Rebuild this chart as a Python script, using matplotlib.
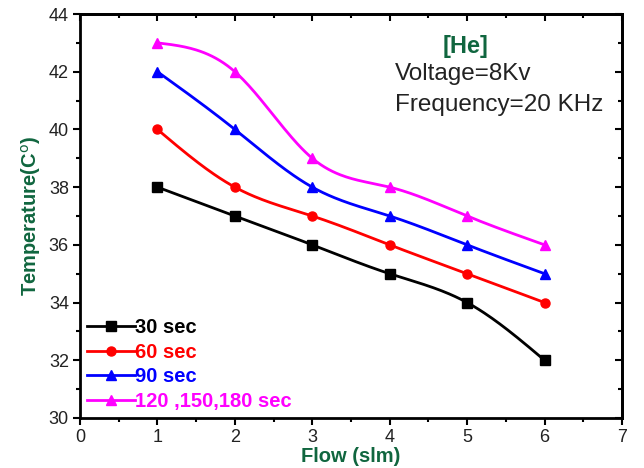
import numpy as np
import matplotlib
matplotlib.use("Agg")
import matplotlib.pyplot as plt
from matplotlib.ticker import MultipleLocator

plt.rcParams['font.family'] = ['Liberation Sans', 'DejaVu Sans']
plt.rcParams['mathtext.fontset'] = 'custom'
plt.rcParams['mathtext.bf'] = 'Liberation Sans:bold'

flow = [1, 2, 3, 4, 5, 6]
t30 = [38, 37, 36, 35, 34, 32]
t60 = [40, 38, 37, 36, 35, 34]
t90 = [42, 40, 38, 37, 36, 35]
t120 = [43, 42, 39, 38, 37, 36]
labels = ['30 sec', '60 sec', '90 sec', '120 ,150,180 sec']
colors = ['black', 'red', 'blue', 'magenta']
markers = ['s', 'o', '^', '^']


def natural_spline(x, y, n=200):
    x = np.asarray(x, float)
    y = np.asarray(y, float)
    k = len(x)
    h = np.diff(x)
    A = np.zeros((k, k))
    b = np.zeros(k)
    A[0, 0] = A[-1, -1] = 1
    for i in range(1, k - 1):
        A[i, i - 1] = h[i - 1]
        A[i, i] = 2 * (h[i - 1] + h[i])
        A[i, i + 1] = h[i]
        b[i] = 6 * ((y[i + 1] - y[i]) / h[i] - (y[i] - y[i - 1]) / h[i - 1])
    m = np.linalg.solve(A, b)
    xs = np.linspace(x[0], x[-1], n)
    idx = np.clip(np.searchsorted(x, xs) - 1, 0, k - 2)
    x0, x1 = x[idx], x[idx + 1]
    hh = x1 - x0
    a = (x1 - xs) / hh
    c = (xs - x0) / hh
    ys = (a * y[idx] + c * y[idx + 1]
          + ((a ** 3 - a) * m[idx] + (c ** 3 - c) * m[idx + 1]) * hh ** 2 / 6)
    return xs, ys


fig = plt.figure(figsize=(6.44, 4.68), dpi=100)
ax = fig.add_axes([80 / 644, 50 / 468, 542 / 644, 404 / 468])

for ys, lab, col, mk in zip([t30, t60, t90, t120], labels, colors, markers):
    sx, sy = natural_spline(flow, ys)
    ax.plot(sx, sy, color=col, lw=2)
    ax.plot(flow, ys, linestyle='none', marker=mk, color=col, ms=6.5)
    ax.plot([], [], color=col, lw=2, marker=mk, ms=6.5, label=lab)

ax.set_xlim(0, 7)
ax.set_ylim(30, 44)
ax.xaxis.set_major_locator(MultipleLocator(1))
ax.xaxis.set_minor_locator(MultipleLocator(0.5))
ax.yaxis.set_major_locator(MultipleLocator(2))
ax.yaxis.set_minor_locator(MultipleLocator(1))
ax.tick_params(which='both', direction='out', width=1.5, labelsize=13,
               labelcolor='#222222', top=False, right=False, pad=3)
ax.tick_params(which='major', length=5)
ax.tick_params(which='minor', length=3)
for s in ax.spines.values():
    s.set_linewidth(2)

# inward ticks on top/right axes
ax2 = ax.secondary_xaxis('top')
ax2.xaxis.set_major_locator(MultipleLocator(1))
ax2.xaxis.set_minor_locator(MultipleLocator(0.5))
ax2.tick_params(which='both', direction='in', width=1.5, labeltop=False)
ax3 = ax.secondary_yaxis('right')
ax3.yaxis.set_major_locator(MultipleLocator(2))
ax3.yaxis.set_minor_locator(MultipleLocator(1))
ax3.tick_params(which='both', direction='in', width=1.5, labelright=False)
for a in (ax2, ax3):
    a.tick_params(which='major', length=5)
    a.tick_params(which='minor', length=3)
    for s in a.spines.values():
        s.set_linewidth(2)

green = '#10663f'
ax.set_xlabel('Flow (slm)', color=green, fontsize=14.5, fontweight='bold', labelpad=1)
ax.set_ylabel('Temperature(C$^{\\mathbf{\\mathsf{o}}}$)', color=green, fontsize=14.5,
              fontweight='bold', labelpad=4)

leg = ax.legend(loc='lower left', frameon=False, prop={'weight': 'bold', 'size': 14.5},
                handlelength=2.4, handletextpad=0.0, labelspacing=0.28,
                borderaxespad=0.15, borderpad=0.2)
for txt, col in zip(leg.get_texts(), colors):
    txt.set_color(col)

ax.text(4.98, 42.65, '[He]', color=green, fontsize=17, fontweight='bold', ha='center')
ax.text(4.07, 41.7, 'Voltage=8Kv', fontsize=17.5, color='#222222')
ax.text(4.07, 40.65, 'Frequency=20 KHz', fontsize=17.5, color='#222222')

fig.savefig('out.png', dpi=100)
